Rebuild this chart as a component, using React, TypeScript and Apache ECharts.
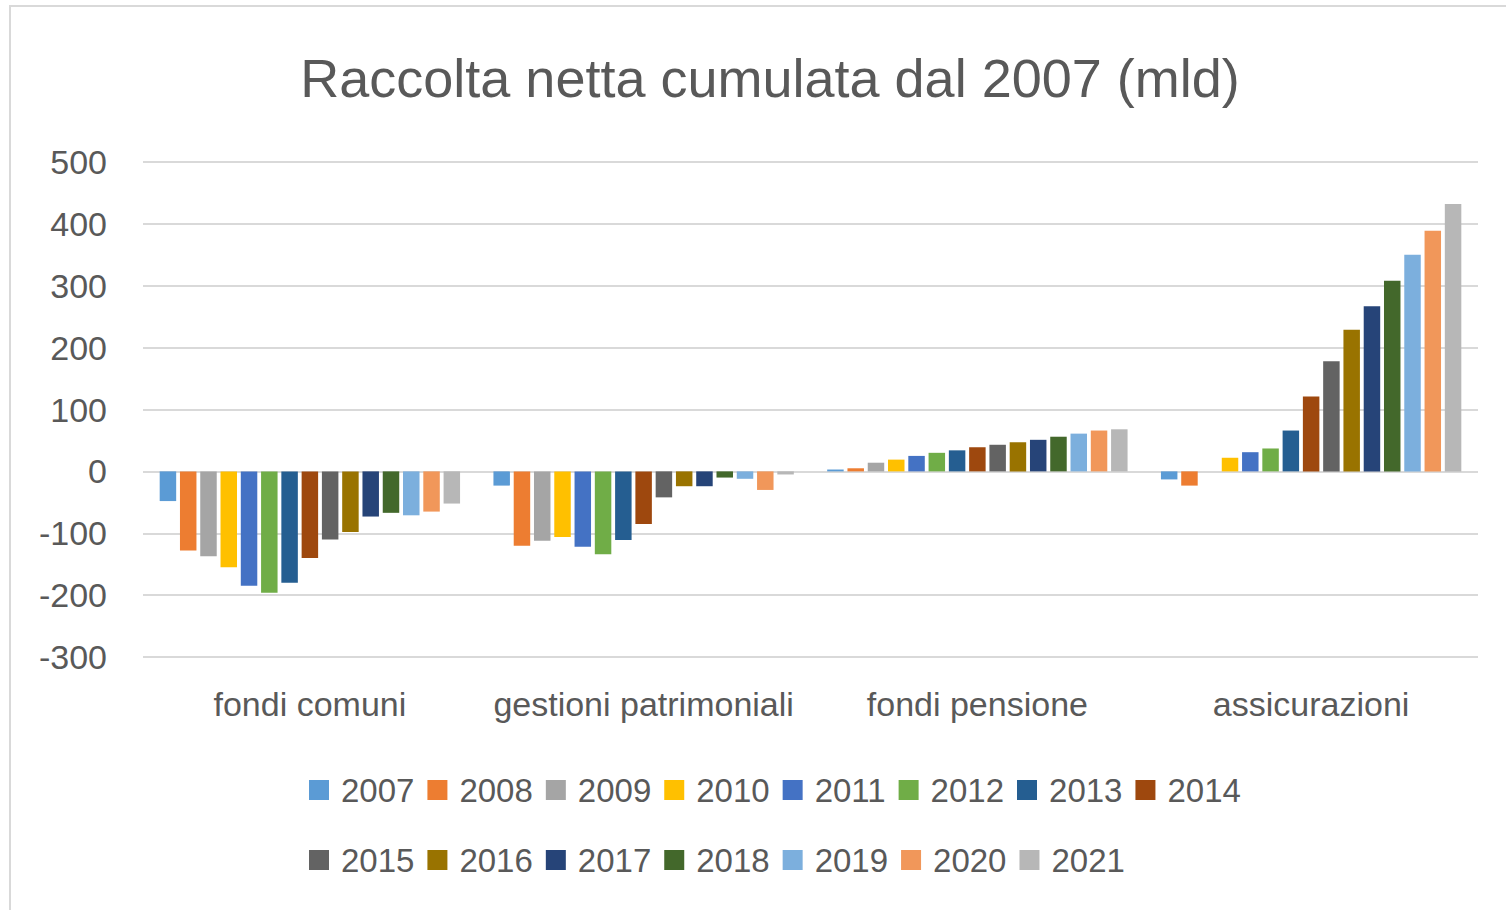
import React, { useEffect, useRef } from "react";
import * as echarts from "echarts";

const categories = ["fondi comuni", "gestioni patrimoniali", "fondi pensione", "assicurazioni"];
const years = ["2007", "2008", "2009", "2010", "2011", "2012", "2013", "2014", "2015", "2016", "2017", "2018", "2019", "2020", "2021"];
const fondiComuni = [-48, -128, -137, -155, -185, -196, -180, -140, -110, -98, -73, -67, -71, -65, -52];
const gestioniPatrimoniali = [-23, -120, -112, -106, -122, -134, -111, -85, -42, -24, -24, -10, -12, -30, -5];
const fondiPensione = [3, 5, 14, 19, 25, 30, 34, 39, 43, 47, 51, 56, 61, 66, 68];
const assicurazioni = [-13, -23, 0, 22, 31, 37, 66, 121, 178, 229, 267, 308, 350, 389, 432];
const yearColors = ["#5B9BD5", "#ED7D31", "#A5A5A5", "#FFC000", "#4472C4", "#70AD47", "#255E91", "#9E480E", "#636363", "#997300", "#264478", "#43682B", "#7CAFDD", "#F1975A", "#B7B7B7"];
const yMin = -300;
const yMax = 500;
const yStep = 100;

const FONT = "'Liberation Sans', Arial, sans-serif";
const TEXT = "#595959";

export default function App() {
  const ref = useRef<HTMLDivElement>(null);
  useEffect(() => {
    if (!ref.current) return;
    const chart = echarts.init(ref.current, undefined, { renderer: "svg" });
    const byCategory = [fondiComuni, gestioniPatrimoniali, fondiPensione, assicurazioni];
    const series = years.map((y, i) => ({
      name: y,
      type: "bar" as const,
      data: byCategory.map((arr) => arr[i]),
      itemStyle: { color: yearColors[i] },
      barGap: "23%",
      barCategoryGap: "10%",
    }));
    const legendCommon = {
      icon: "rect",
      itemWidth: 20,
      itemHeight: 20,
      itemGap: 13,
      left: 309,
      padding: 0,
      orient: "horizontal" as const,
      textStyle: { fontSize: 33, color: TEXT, fontFamily: FONT, padding: [0, 0, 0, 7], lineHeight: 40 },
      selectedMode: false,
    };
    chart.setOption({
      animation: false,
      color: yearColors,
      textStyle: { fontFamily: FONT },
      title: {
        text: "Raccolta netta cumulata dal 2007 (mld)",
        left: 765,
        top: 46,
        textAlign: "center",
        textStyle: { fontSize: 54, fontWeight: "normal", color: TEXT, fontFamily: FONT },
      },
      graphic: [
        {
          type: "rect",
          shape: { x: 10, y: 6, width: 1520, height: 920 },
          style: { fill: "none", stroke: "#D9D9D9", lineWidth: 2 },
          silent: true,
          z: -1,
        },
      ],
      legend: [
        { ...legendCommon, top: 770, data: years.slice(0, 8) },
        { ...legendCommon, top: 840, data: years.slice(8) },
      ],
      grid: { left: 143, right: 28, top: 162, height: 495, containLabel: false },
      xAxis: {
        type: "category",
        data: categories,
        axisLine: { show: false, onZero: false },
        axisTick: { show: false },
        axisLabel: { fontSize: 34, color: TEXT, fontFamily: FONT, margin: 30, interval: 0 },
      },
      yAxis: {
        type: "value",
        min: yMin,
        max: yMax,
        interval: yStep,
        axisLine: { show: false },
        axisTick: { show: false },
        splitLine: { lineStyle: { color: "#D9D9D9", width: 2 } },
        axisLabel: { fontSize: 34, color: TEXT, fontFamily: FONT, margin: 36 },
      },
      series,
    });
    return () => chart.dispose();
  }, []);
  return (
    <div
      ref={ref}
      style={{ position: "fixed", left: 0, top: 0, width: 1506, height: 910, background: "#fff" }}
    />
  );
}
